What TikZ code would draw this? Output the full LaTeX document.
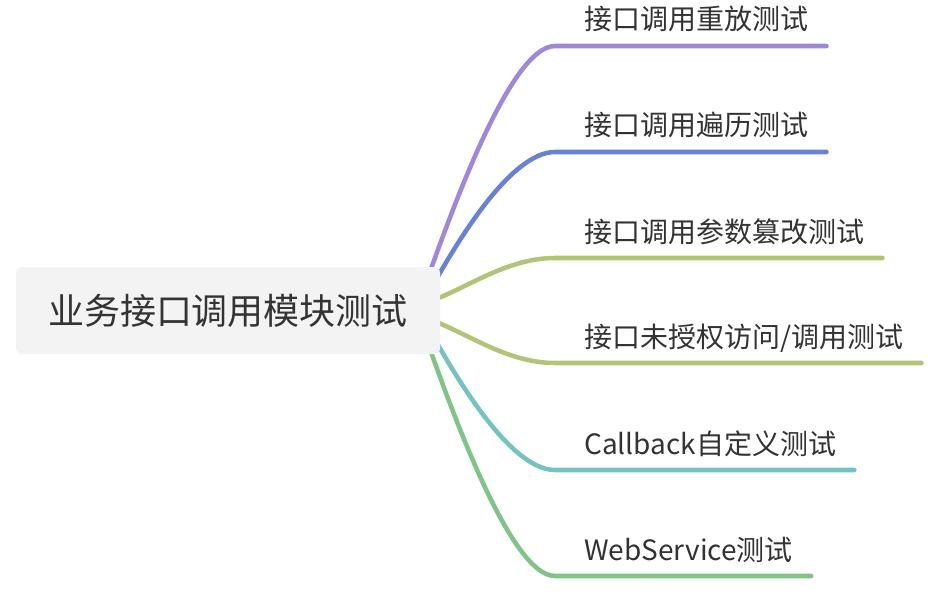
\documentclass[tikz,border=0pt]{standalone}
\usepackage{fontspec}
\setmainfont{Noto Sans CJK SC}
\usetikzlibrary{backgrounds}

\definecolor{txtgray}{HTML}{333333}
\definecolor{rootfill}{HTML}{F3F3F3}
\definecolor{purplebr}{HTML}{9F87DB}
\definecolor{bluebr}{HTML}{6A82D6}
\definecolor{olivebr}{HTML}{B3C478}
\definecolor{tealbr}{HTML}{73C4C0}
\definecolor{greenbr}{HTML}{80C488}

\tikzset{
  rootbox/.style={fill=rootfill, rounded corners=4.5pt, inner sep=0pt,
    minimum width=318pt, minimum height=65.25pt, text=txtgray,
    font=\fontsize{27}{32}\selectfont},
  leaf/.style={anchor=base west, inner xsep=13.5pt, inner ysep=0pt,
    text=txtgray, font=\fontsize{21}{25}\selectfont},
  branch/.style={line width=3.4pt, line cap=round}
}

\begin{document}
\begin{tikzpicture}[x=0.75pt, y=-0.75pt]
  \useasboundingbox (0,0) rectangle (943,592);

        % 1) Root topic box
        \node[rootbox] (root) at (228,310.5) {业务接口调用模块测试};

        % 2) Start points (hidden under the root box) and end points of the branches
        \coordinate (s1) at ([shift={(-15,-25.5)}]root.east);
        \coordinate (s2) at ([shift={(-10,-20.5)}]root.east);
        \coordinate (s3) at ([shift={(-15,-7.5)}]root.east);
        \coordinate (s4) at ([shift={(-15,7.5)}]root.east);
        \coordinate (s5) at ([shift={(-10,20.5)}]root.east);
        \coordinate (s6) at ([shift={(-15,25.5)}]root.east);
        \coordinate (e1) at (555,46);
        \coordinate (e2) at (555,152);
        \coordinate (e3) at (555,258);
        \coordinate (e4) at (555,363);
        \coordinate (e5) at (555,470);
        \coordinate (e6) at (555,576);

        % 3) Subtopic labels sitting on their lines
        \node[leaf] (l1) at ([shift={(11,-16)}]e1) {接口调用重放测试};
        \node[leaf] (l2) at ([shift={(11,-16)}]e2) {接口调用遍历测试};
        \node[leaf] (l3) at ([shift={(11,-16)}]e3) {接口调用参数篡改测试};
        \node[leaf] (l4) at ([shift={(11,-16)}]e4) {接口未授权访问/调用测试};
        \node[leaf] (l5) at ([shift={(11,-16)}]e5) {Callback自定义测试};
        \node[leaf] (l6) at ([shift={(11,-16)}]e6) {WebService测试};

        % 4) Curved branches behind the root, then the underlines
        \begin{pgfonlayer}{background}
        \draw[branch, purplebr] (s1) .. controls +(25,-70) and +(-45,0) .. (e1) -- (e1 -| l1.east);
        \draw[branch, bluebr] (s2) .. controls +(25,-45) and +(-45,0) .. (e2) -- (e2 -| l2.east);
        \draw[branch, olivebr] (s3) .. controls +(40,-13) and +(-50,0) .. (e3) -- (e3 -| l3.east);
        \draw[branch, olivebr] (s4) .. controls +(40,13) and +(-50,0) .. (e4) -- (e4 -| l4.east);
        \draw[branch, tealbr] (s5) .. controls +(25,45) and +(-45,0) .. (e5) -- (e5 -| l5.east);
        \draw[branch, greenbr] (s6) .. controls +(25,70) and +(-45,0) .. (e6) -- (e6 -| l6.east);
        \end{pgfonlayer}

\end{tikzpicture}
\end{document}
